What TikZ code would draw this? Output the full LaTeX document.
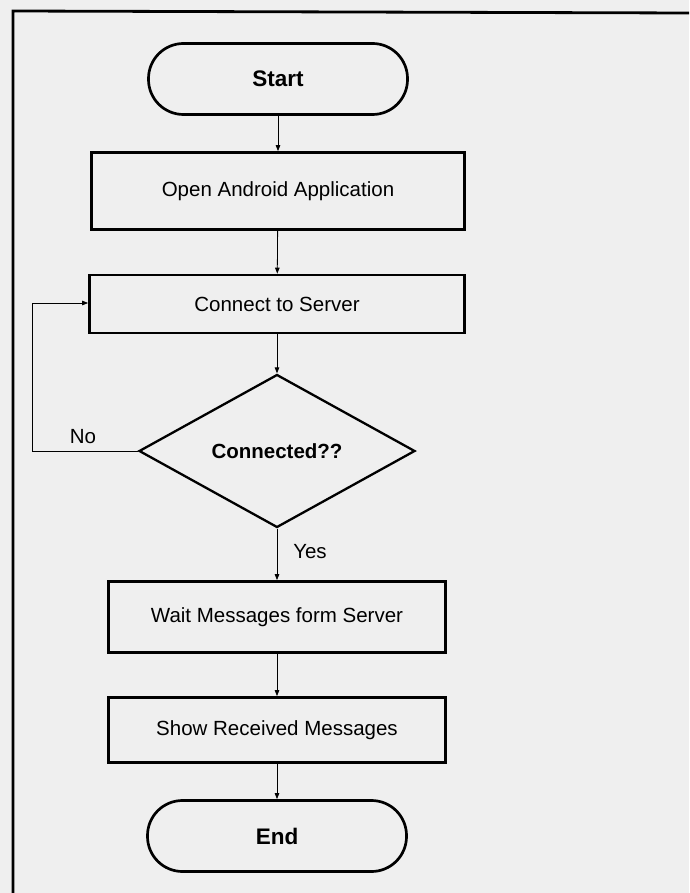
\documentclass[tikz,border=0pt]{standalone}
\usepackage{fontspec}
\setmainfont{Liberation Sans}
\usetikzlibrary{shapes.geometric,arrows.meta}

\definecolor{pagegray}{RGB}{239,239,239}

\tikzset{every picture/.style={line width=0.75pt}}
\tikzset{
  chartfont/.style={font=\fontsize{20.5}{24}\selectfont},
  procbox/.style={draw, line width=2.7pt, rectangle, inner sep=0pt, chartfont},
  termbox/.style={draw, line width=2.7pt, rectangle, rounded corners=35pt, inner sep=0pt, minimum width=259pt, minimum height=71pt, font=\fontsize{22.5}{26}\selectfont\bfseries},
  decbox/.style={draw, line width=2.3pt, diamond, inner sep=0pt, minimum width=276pt, minimum height=153pt, chartfont},
  flowarrow/.style={line width=0.8pt, -{Triangle[length=6pt,width=4.5pt]}},
  flowlabel/.style={inner sep=0pt, chartfont}
}

\begin{document}
\begin{tikzpicture}[x=1pt,y=1pt,yscale=-1,xscale=1]
%Page background
\useasboundingbox[fill=pagegray] (0,0) rectangle (689,893);

%Frame lines
\draw [line width=2.8pt] (13,893) -- (13,11) -- (689,13) ;

%Shape: Terminals
\node (start) [termbox] at (278,79) {Start};
\node (end) [termbox] at (277,836) {End};

%Shape: Rectangles
\node (openapp) [procbox, minimum width=373pt, minimum height=77pt] at (278,191) {Open Android Application};
\node (connect) [procbox, minimum width=375pt, minimum height=58pt] at (277,304) {Connect to Server};
\node (waitmsg) [procbox, minimum width=337pt, minimum height=71pt] at (277,617) {Wait Messages form Server};
\node (showmsg) [procbox, minimum width=337pt, minimum height=65pt] at (277,730) {Show Received Messages};

%Shape: Diamond
\node (connected) [decbox] at (277,451) {\textbf{Connected??}};

%Loop corners
\coordinate (loopbot) at (32,451);
\coordinate (looptop) at (32,303);

%Straight Lines
\draw [flowarrow] (start) -- (openapp) ;
\draw [flowarrow] (openapp) -- (connect) ;
\draw [flowarrow] (connect) -- (connected) ;
\draw [flowarrow] (connected) -- (waitmsg) ;
\draw [flowarrow] (waitmsg) -- (showmsg) ;
\draw [flowarrow] (showmsg) -- (end) ;
\draw [flowarrow] (connected.west) -- (loopbot) -- (looptop) -- (connect.west |- looptop) ;

% Text Node
\node (nolabel) [flowlabel] at (83,437) {No};
% Text Node
\node (yeslabel) [flowlabel] at (310,552) {Yes};

\end{tikzpicture}
\end{document}
